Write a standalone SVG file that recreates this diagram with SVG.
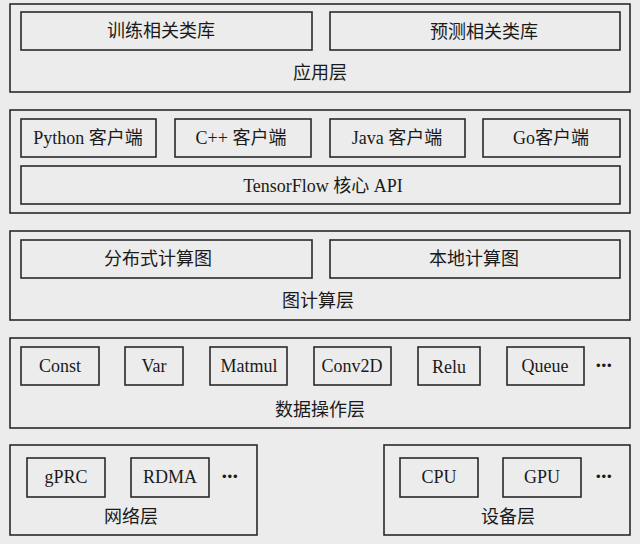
<svg xmlns="http://www.w3.org/2000/svg" width="640" height="544" viewBox="0 0 640 544">
<style>
.bg{fill:#ececec}
.box{fill:#ececec;stroke:#2a2a2a;stroke-width:1.6}
text{font-family:"Liberation Serif","Noto Sans CJK SC",serif;font-size:18px;fill:#1a1a1a;text-anchor:middle;dominant-baseline:central}
.dots{font-family:"DejaVu Sans",sans-serif;font-size:12px;letter-spacing:-1.5px}
</style>
<rect class="bg" x="0" y="0" width="640" height="544"/>
<g id="app-layer">
<rect class="box" x="10" y="4" width="620" height="88"/>
<text x="320" y="73">应用层</text>
</g>
<g id="train-lib"><rect class="box" x="21" y="12" width="291" height="38"/><text x="161" y="31">训练相关类库</text></g>
<g id="predict-lib"><rect class="box" x="330" y="12" width="290" height="38"/><text x="484" y="32">预测相关类库</text></g>

<g id="client-layer"><rect class="box" x="10" y="110" width="620" height="103"/></g>
<g id="python"><rect class="box" x="21" y="119" width="135" height="38"/><text x="88" y="138">Python 客户端</text></g>
<g id="cpp"><rect class="box" x="175" y="119" width="136" height="38"/><text x="241" y="138">C++ 客户端</text></g>
<g id="java"><rect class="box" x="330" y="119" width="135" height="38"/><text x="397" y="138">Java 客户端</text></g>
<g id="go"><rect class="box" x="483" y="119" width="137" height="38"/><text x="551" y="138">Go客户端</text></g>
<g id="core-api"><rect class="box" x="21" y="166" width="599" height="38"/><text x="323" y="186">TensorFlow 核心 API</text></g>

<g id="graph-layer"><rect class="box" x="10" y="231" width="620" height="89"/><text x="318" y="301">图计算层</text></g>
<g id="dist-graph"><rect class="box" x="21" y="240" width="291" height="38"/><text x="158" y="259">分布式计算图</text></g>
<g id="local-graph"><rect class="box" x="330" y="240" width="290" height="38"/><text x="474" y="259">本地计算图</text></g>

<g id="op-layer"><rect class="box" x="10" y="338" width="620" height="90"/><text x="320" y="410">数据操作层</text>
<text class="dots" x="603" y="366">•••</text></g>
<g id="const"><rect class="box" x="21" y="347" width="78" height="38"/><text x="60" y="366">Const</text></g>
<g id="var"><rect class="box" x="125" y="347" width="58" height="38"/><text x="154" y="366">Var</text></g>
<g id="matmul"><rect class="box" x="210" y="347" width="77" height="38"/><text x="249" y="366">Matmul</text></g>
<g id="conv2d"><rect class="box" x="314" y="347" width="77" height="38"/><text x="352" y="366">Conv2D</text></g>
<g id="relu"><rect class="box" x="418" y="347" width="62" height="38"/><text x="449" y="367">Relu</text></g>
<g id="queue"><rect class="box" x="507" y="347" width="77" height="38"/><text x="545" y="366">Queue</text></g>

<g id="net-layer"><rect class="box" x="10" y="445" width="247" height="90"/><text x="131" y="517">网络层</text>
<text class="dots" x="229" y="477">•••</text></g>
<g id="grpc"><rect class="box" x="27" y="458" width="78" height="39"/><text x="66" y="477">gPRC</text></g>
<g id="rdma"><rect class="box" x="131" y="458" width="78" height="39"/><text x="170" y="477">RDMA</text></g>

<g id="dev-layer"><rect class="box" x="384" y="445" width="246" height="90"/><text x="508" y="517">设备层</text>
<text class="dots" x="603" y="477">•••</text></g>
<g id="cpu"><rect class="box" x="400" y="458" width="78" height="39"/><text x="439" y="477">CPU</text></g>
<g id="gpu"><rect class="box" x="503" y="458" width="78" height="39"/><text x="542" y="477">GPU</text></g>
<g id="connectors"></g>
</svg>
